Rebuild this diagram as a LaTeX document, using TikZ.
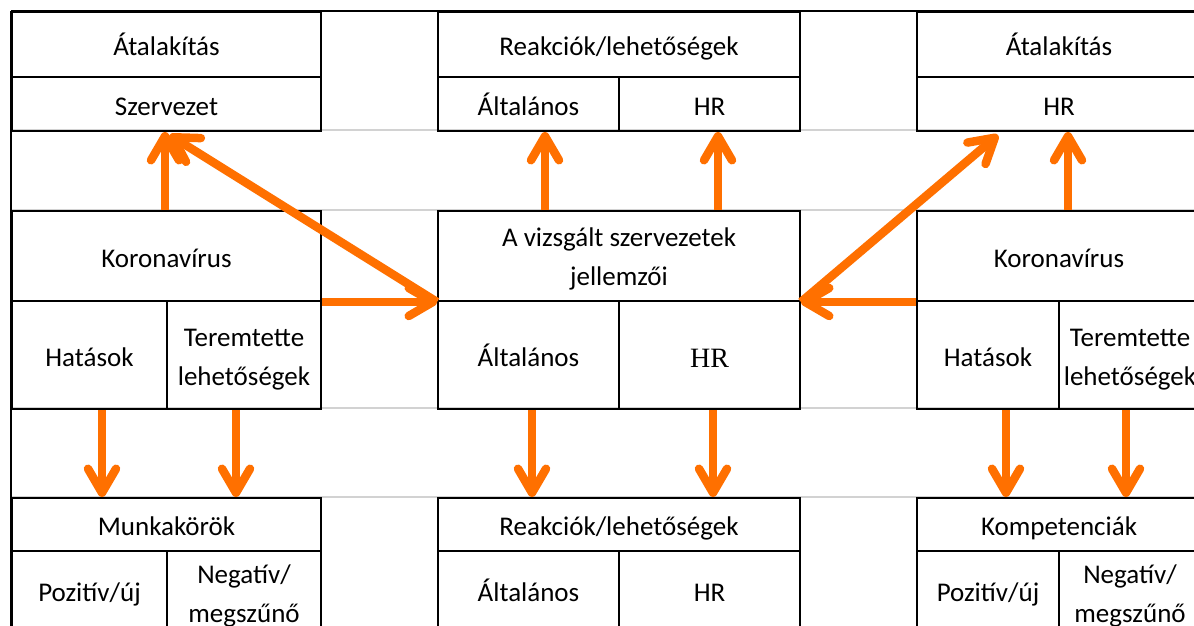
\documentclass[tikz,border=0pt]{standalone}
\usepackage{fontspec}
\setmainfont{Carlito}
\newfontfamily\serifhr{Liberation Serif}
\usetikzlibrary{arrows.meta}
\definecolor{arrorange}{RGB}{255,112,0}
\definecolor{gridgray}{RGB}{210,210,210}
\newcommand\topstrut[1]{\rule{0pt}{#1}}
\begin{document}
\begin{tikzpicture}[x=1pt,y=-1pt,
  cell/.style={draw=black, line width=2pt, anchor=north west, inner sep=0pt,
    align=center, font=\fontsize{27}{39}\selectfont},
  one/.style={text height=25pt, text depth=3pt},
  gridline/.style={draw=gridgray, line width=2pt},
  frameline/.style={draw=black, line width=2pt},
  arr/.style={draw=arrorange, line width=8.5pt,
    -{Straight Barb[length=24pt,width=28pt,round]}}]
\useasboundingbox (0,0) rectangle (1194,626);
\clip (0,0) rectangle (1194,626);
\fill[white] (0,0) rectangle (1194,626);
% light grid lines in the gaps
\foreach \yy in {130,210,408,497} \draw[gridline] (11,\yy) -- (1210,\yy);
% outer frame lines
\draw[frameline] (11,11) -- (1210,11);
\draw[frameline] (11,11) -- (11,640);
% top row
\node[cell, one, minimum width=309pt, minimum height=65pt] (taL) at (11,11) {Átalakítás};
\node[cell, one, minimum width=309pt, minimum height=54pt] (szL) at (11,76) {Szervezet};
\node[cell, one, minimum width=362pt, minimum height=65pt] (treak) at (437,11) {Reakciók/lehetőségek};
\node[cell, one, minimum width=181pt, minimum height=54pt] (tgen) at (437,76) {Általános};
\node[cell, one, minimum width=181pt, minimum height=54pt] (thr) at (618,76) {HR};
\node[cell, one, minimum width=284pt, minimum height=65pt] (taR) at (916,11) {Átalakítás};
\node[cell, one, minimum width=284pt, minimum height=54pt] (hrR) at (916,76) {HR};
% middle row
\node[cell, one, minimum width=309pt, minimum height=90pt] (kL) at (11,210) {Koronavírus};
\node[cell, one, minimum width=155pt, minimum height=108pt] (hatL) at (11,300) {Hatások};
\node[cell, minimum width=154pt, minimum height=108pt] (terL) at (166,300) {\topstrut{27pt}Teremtette\\lehetőségek};
\node[cell, minimum width=362pt, minimum height=90pt] (jell) at (437,210) {\topstrut{25pt}A vizsgált szervezetek\\jellemzői};
\node[cell, one, minimum width=181pt, minimum height=108pt] (mgen) at (437,300) {Általános};
\node[cell, minimum width=181pt, minimum height=108pt, text height=26pt, text depth=2pt, font=\fontsize{28}{34}\serifhr] (mhr) at (618,300) {HR};
\node[cell, one, minimum width=284pt, minimum height=90pt] (kR) at (916,210) {Koronavírus};
\node[cell, one, minimum width=142pt, minimum height=108pt] (hatR) at (916,300) {Hatások};
\node[cell, minimum width=142pt, minimum height=108pt] (terR) at (1058,300) {\topstrut{27pt}Teremtette\\lehetőségek};
% bottom row
\node[cell, one, minimum width=309pt, minimum height=53pt] (mkL) at (11,497) {Munkakörök};
\node[cell, one, minimum width=155pt, minimum height=78pt] (posL) at (11,550) {Pozitív/új};
\node[cell, minimum width=154pt, minimum height=78pt] (negL) at (166,550) {\topstrut{30pt}Negatív/\\megszűnő};
\node[cell, one, minimum width=362pt, minimum height=53pt] (break) at (437,497) {Reakciók/lehetőségek};
\node[cell, one, minimum width=181pt, minimum height=78pt] (bgen) at (437,550) {Általános};
\node[cell, one, minimum width=181pt, minimum height=78pt] (bhr) at (618,550) {HR};
\node[cell, one, minimum width=284pt, minimum height=53pt] (kompR) at (916,497) {Kompetenciák};
\node[cell, one, minimum width=142pt, minimum height=78pt] (posR) at (916,550) {Pozitív/új};
\node[cell, minimum width=142pt, minimum height=78pt] (negR) at (1058,550) {\topstrut{30pt}Negatív/\\megszűnő};
% arrows, upper part
\draw[arr] ([xshift=-1.5pt]kL.north) -- ([xshift=-1.5pt]szL.south);
\draw[arr] (jell.south west) -- ([xshift=3pt,yshift=-3pt]szL.south);
\draw[arr] (kL.south east) -- (jell.south west);
\draw[arr] ([xshift=-74pt]jell.north) -- ([xshift=16.5pt]tgen.south);
\draw[arr] ([xshift=99pt]jell.north) -- ([xshift=8.5pt]thr.south);
\draw[arr] (jell.south east) -- ([xshift=-61pt,yshift=-3pt]hrR.south);
\draw[arr] (kR.south west) -- (jell.south east);
\draw[arr] ([xshift=9pt]kR.north) -- ([xshift=9pt]hrR.south);
% arrows, lower part
\draw[arr] ([xshift=12.5pt]hatL.south) -- ([xshift=-64.5pt]mkL.north);
\draw[arr] ([xshift=-8pt]terL.south) -- ([xshift=69.5pt]mkL.north);
\draw[arr] ([xshift=3.5pt]mgen.south) -- ([xshift=-87pt]break.north);
\draw[arr] ([xshift=3.5pt]mhr.south) -- ([xshift=94pt]break.north);
\draw[arr] ([xshift=18pt]hatR.south) -- ([xshift=-53pt]kompR.north);
\draw[arr] ([xshift=-4pt]terR.south) -- ([xshift=67pt]kompR.north);
\end{tikzpicture}
\end{document}
